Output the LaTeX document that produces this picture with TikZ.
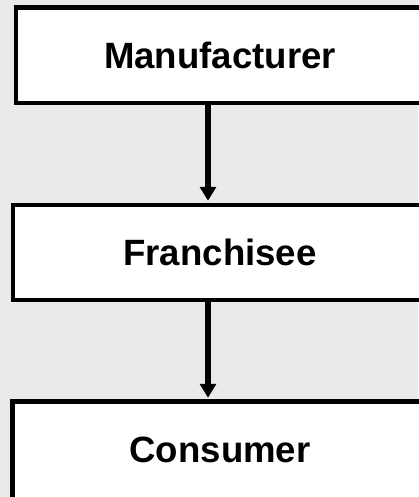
\documentclass[tikz,border=0pt]{standalone}
\usepackage{fontspec}
\setmainfont{Liberation Sans}
\usetikzlibrary{arrows.meta}
\definecolor{bggray}{HTML}{EAEAEA}
\tikzset{
  stagebox/.style={draw=black, fill=white, line width=4.5pt, rectangle,
    inner sep=0pt, font=\fontsize{36.6}{40}\selectfont\bfseries},
  flow/.style={draw=black, line width=5.5pt,
    -{Triangle[width=16pt,length=14pt]}}
}
\begin{document}
\begin{tikzpicture}[x=1pt, y=-1pt]
  % page background
  \fill[bggray] (0,0) rectangle (418,497);
  \useasboundingbox (0,0) rectangle (418,497);

  % the three stages of the chain
  \node[stagebox, minimum width=408pt, minimum height=95.5pt] (m) at (220,55.25) {Manufacturer};
  \node[stagebox, minimum width=414pt, minimum height=95pt]   (f) at (220,252.5) {Franchisee};
  \node[stagebox, minimum width=415pt, minimum height=97.5pt] (c) at (220,450.25) {Consumer};

  % flow between stages
  \draw[flow] ([xshift=-12pt]m.south) -- ([xshift=-12pt,yshift=2pt]f.north);
  \draw[flow] ([xshift=-12pt,yshift=4pt]f.south) -- ([xshift=-12pt,yshift=1.5pt]c.north);
\end{tikzpicture}
\end{document}
